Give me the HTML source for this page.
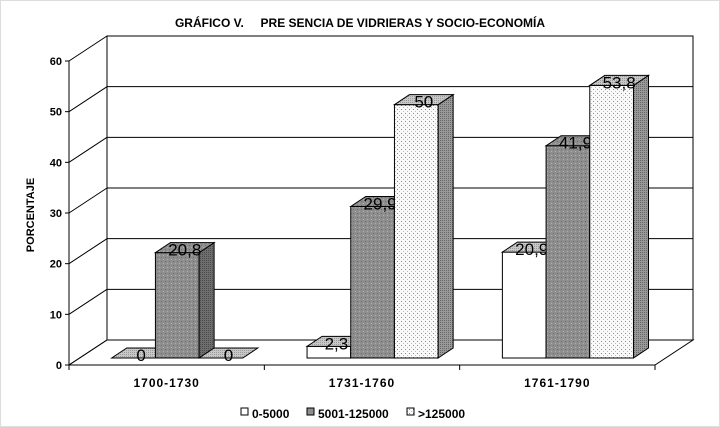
<!DOCTYPE html>
<html><head><meta charset="utf-8"><style>
html,body{margin:0;padding:0;background:#fff}
svg{display:block;font-family:"Liberation Sans",Arial,sans-serif}
</style></head><body>
<svg width="720" height="427" viewBox="0 0 720 427">
<defs>
<pattern id="pDark" width="4" height="4" patternUnits="userSpaceOnUse"><rect width="4" height="4" fill="#8e8e8e"/><rect x="1" y="1" width="1" height="1" fill="#6a6a6a"/><rect x="3" y="3" width="1" height="1" fill="#b0b0b0"/></pattern>
<pattern id="pDarkSide" width="2" height="2" patternUnits="userSpaceOnUse"><rect width="2" height="2" fill="#6e6e6e"/><rect width="1" height="1" fill="#4a4a4a"/></pattern>
<pattern id="pLight" width="4" height="4" patternUnits="userSpaceOnUse"><rect width="4" height="4" fill="#fafafa"/><rect x="1" y="1" width="1" height="1" fill="#888"/><rect x="3" y="3" width="1" height="1" fill="#bbb"/></pattern>
<pattern id="pTop" width="2" height="2" patternUnits="userSpaceOnUse"><rect width="2" height="2" fill="#c8c8c8"/><rect width="1" height="1" fill="#9a9a9a"/></pattern>
<pattern id="pSideLight" width="2" height="2" patternUnits="userSpaceOnUse"><rect width="2" height="2" fill="#999"/><rect width="1" height="1" fill="#666"/></pattern>
</defs>
<rect x="0.5" y="0.5" width="719" height="426" fill="#fff" stroke="#bbb" stroke-dasharray="1,1"/>
<text x="360" y="27" text-anchor="middle" font-size="12" font-weight="bold" xml:space="preserve">GRÁFICO V.     PRE SENCIA DE VIDRIERAS Y SOCIO-ECONOMÍA</text>
<text transform="translate(34,215) rotate(-90)" text-anchor="middle" font-size="11" font-weight="bold">PORCENTAJE</text>
<g id="axes"></g>
<g id="bars"></g>
<g id="legend" font-size="12" font-weight="bold">
<rect x="241" y="408" width="7" height="7" fill="#fff" stroke="#000"/>
<text x="252" y="418">0-5000</text>
<rect x="307" y="408" width="7" height="7" fill="#8e8e8e" stroke="#000"/>
<text x="318" y="418">5001-125000</text>
<rect x="407" y="408" width="7" height="7" fill="url(#pLight)" stroke="#000"/>
<text x="418" y="418">&gt;125000</text>
</g>
</svg>
<script>
const categories = ["1700-1730","1731-1760","1761-1790"];
const seriesNames = ["0-5000","5001-125000",">125000"];
const s0 = [0, 2.3, 20.9];
const s1 = [20.8, 29.9, 41.9];
const s2 = [0, 50, 53.8];
const yTicks = [0,10,20,30,40,50,60];
const yMax = 60;

const NS="http://www.w3.org/2000/svg";
const X0=69, X1=655, Y0=365, Y60=61;
const BDX=38, BDY=-25;      // back wall offset
const FDX=10.6, FDY=-7;     // bar front offset
const DDX=15, DDY=-10;      // bar depth
const BW=43.7;
function y(v){return Y0-(v/yMax)*(Y0-Y60);}
function mk(tag,attrs,parent){const e=document.createElementNS(NS,tag);for(const k in attrs)e.setAttribute(k,attrs[k]);parent.appendChild(e);return e;}
const axes=document.getElementById('axes');
const bars=document.getElementById('bars');
// back wall
const bw=mk('rect',{x:X0+BDX,y:y(yMax)+BDY,width:(X1-X0),height:y(0)-y(yMax),fill:'#fff',stroke:'#000','stroke-width':1},axes);


// floor
const fl=mk('polygon',{points:`${X0},${Y0} ${X1},${Y0} ${X1+BDX},${Y0+BDY} ${X0+BDX},${Y0+BDY}`,fill:'#fff',stroke:'#000','stroke-width':1},axes);


// left wall line
mk('line',{x1:X0,y1:y(0),x2:X0,y2:y(yMax),stroke:'#000'},axes);
yTicks.forEach(t=>{
  const yy=y(t);
  const g=mk('line',{x1:X0,y1:yy,x2:X0+BDX,y2:yy+BDY,stroke:'#000'},axes);
  
  
  if(t>0){const h=mk('line',{x1:X0+BDX,y1:yy+BDY,x2:X1+BDX,y2:yy+BDY,stroke:'#000'},axes);
  
  }
  mk('line',{x1:X0-4,y1:yy,x2:X0,y2:yy,stroke:'#000'},axes);
  const tx=mk('text',{x:X0-7,y:yy+4,'text-anchor':'end','font-size':11,'font-weight':'bold'},axes);
  tx.textContent=t;
  
  
});
const cw=(X1-X0)/categories.length;
for(let i=0;i<=categories.length;i++){mk('line',{x1:X0+i*cw,y1:Y0,x2:X0+i*cw,y2:Y0+5,stroke:'#000'},axes);}
categories.forEach((c,i)=>{
  const tx=mk('text',{x:X0+cw*(i+0.5),y:Y0+22,'text-anchor':'middle','font-size':12,'font-weight':'bold','letter-spacing':'1'},axes);
  tx.textContent=c;
  
  
});
const series=[s0,s1,s2];
const fills=[['#fff','url(#pTop)','#fff'],['url(#pDark)','url(#pDark)','url(#pDarkSide)'],['url(#pLight)','url(#pTop)','url(#pSideLight)']];
categories.forEach((c,i)=>{
  const cx=X0+cw*(i+0.5);
  series.forEach((s,j)=>{
    const v=s[i];
    const x0=cx-1.5*BW+j*BW+FDX, x1=x0+BW;
    const yb=y(0)+FDY, yt=y(v)+FDY;
    const g=mk('g',{},bars);
    
    
    if(v>0){
      mk('rect',{x:x0,y:yt,width:BW,height:yb-yt,fill:fills[j][0],stroke:'#000','stroke-width':1},g);
      mk('polygon',{points:`${x1},${yt} ${x1+DDX},${yt+DDY} ${x1+DDX},${yb+DDY} ${x1},${yb}`,fill:fills[j][2],stroke:'#000','stroke-width':1},g);
    }
    mk('polygon',{points:`${x0},${yt} ${x1},${yt} ${x1+DDX},${yt+DDY} ${x0+DDX},${yt+DDY}`,fill:fills[j][1],stroke:'#000','stroke-width':1},g);
    const lb=mk('text',{x:x0+BW/2+DDX/2,y:yt+3,'text-anchor':'middle','font-size':17},g);
    lb.textContent=String(v).replace('.',',');
    
    
  });
});
</script>
</body></html>
